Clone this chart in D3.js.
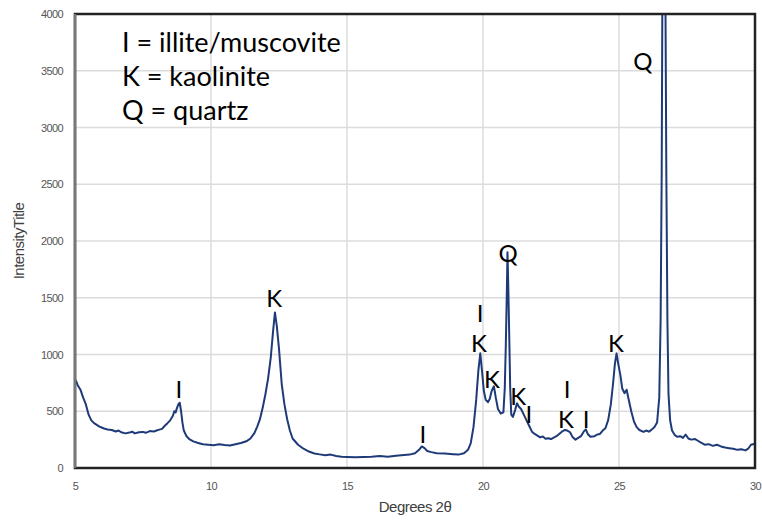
<!DOCTYPE html>
<html>
<head>
<meta charset="utf-8">
<script src="https://cdn.jsdelivr.net/npm/d3@7"></script>
<style>
  body { margin: 0; background: #fff; }
</style>
</head>
<body>
<div id="graficoXRD"></div>
<script>
// two-theta (degrees) and intensity
const twoTheta = [
  5.0, 5.05, 5.1, 5.2, 5.3, 5.4, 5.5, 5.6, 5.7, 5.8, 5.9, 6.0, 6.1, 6.2, 6.35, 6.5, 6.6, 6.7, 6.85, 7.0,
  7.1, 7.2, 7.35, 7.5, 7.6, 7.75, 7.9, 8.0, 8.1, 8.2, 8.3, 8.4, 8.5, 8.6, 8.65, 8.7, 8.75, 8.8, 8.85, 8.9,
  8.95, 9.0, 9.1, 9.2, 9.35, 9.5, 9.7, 9.9, 10.1, 10.3, 10.5, 10.7, 10.9, 11.1, 11.3, 11.45, 11.6, 11.7, 11.8, 11.9,
  12.0, 12.1, 12.2, 12.28, 12.35, 12.42, 12.5, 12.6, 12.7, 12.8, 12.9, 13.0, 13.2, 13.4, 13.6, 13.8, 14.0, 14.2, 14.4, 14.6,
  14.8, 15.0, 15.3, 15.6, 15.9, 16.2, 16.5, 16.8, 17.0, 17.3, 17.5, 17.65, 17.75, 17.85, 17.95, 18.1, 18.3, 18.6, 18.9, 19.1,
  19.3, 19.45, 19.55, 19.65, 19.75, 19.83, 19.9, 19.97, 20.03, 20.1, 20.18, 20.25, 20.32, 20.4, 20.47, 20.55, 20.65, 20.75, 20.8, 20.84,
  20.88, 20.9, 20.93, 20.97, 21.0, 21.04, 21.1, 21.18, 21.25, 21.32, 21.4, 21.5, 21.6, 21.7, 21.8, 21.9, 22.0, 22.1, 22.2, 22.3,
  22.4, 22.5, 22.6, 22.7, 22.8, 22.9, 23.0, 23.1, 23.2, 23.3, 23.4, 23.5, 23.6, 23.7, 23.78, 23.85, 23.95, 24.1, 24.2, 24.3,
  24.4, 24.5, 24.6, 24.7, 24.78, 24.85, 24.91, 24.97, 25.05, 25.12, 25.2, 25.28, 25.35, 25.45, 25.55, 25.65, 25.75, 25.9, 26.0, 26.1,
  26.2, 26.3, 26.4, 26.48, 26.53, 26.57, 26.6, 26.64, 26.7, 26.74, 26.78, 26.82, 26.88, 26.95, 27.05, 27.15, 27.25, 27.35, 27.45, 27.55,
  27.65, 27.8, 27.9, 28.0, 28.15, 28.3, 28.45, 28.6, 28.75, 28.9, 29.05, 29.2, 29.35, 29.5, 29.65, 29.75, 29.85, 30.0
];
const intensity = [
  780, 760, 730, 690, 620, 560, 470, 420, 395, 380, 365, 355, 345, 340, 335, 322, 330, 315, 305, 312,
  320, 305, 315, 318, 310, 325, 322, 330, 338, 345, 372, 395, 420, 460, 500, 490, 530, 560, 575, 500,
  400, 330, 280, 255, 235, 222, 210, 205, 200, 210, 203, 198, 210, 220, 235, 260, 310, 365, 430, 530,
  650, 790, 980, 1200, 1370, 1250, 1050, 740, 560, 430, 330, 260, 205, 170, 145, 128, 120, 112, 118, 105,
  100, 98, 95, 97, 100, 105, 100, 108, 112, 118, 130, 160, 190, 175, 150, 140, 130, 128, 122, 118,
  130, 160, 220, 360, 600, 860, 1010, 840, 680, 600, 580, 610, 680, 720, 620, 520, 480, 490, 700, 1100,
  1600, 1900, 1600, 1100, 700, 470, 450, 510, 570, 540, 520, 470, 420, 370, 320, 300, 285, 270, 278, 258,
  262, 255, 268, 280, 300, 320, 335, 330, 315, 270, 250, 265, 280, 320, 340, 300, 275, 280, 295, 300,
  330, 350, 420, 560, 740, 920, 1010, 920, 820, 700, 660, 690, 610, 500, 410, 360, 335, 318, 330, 320,
  338, 360, 400, 620, 1300, 2600, 4500, 6000, 4500, 2600, 1300, 650, 420, 330, 290, 275, 280, 265, 295, 260,
  250, 255, 240, 225, 205, 210, 195, 205, 190, 180, 175, 170, 160, 165, 155, 170, 205, 215
];

// peak labels: letter, position (deg), baseline (intensity)
const peakLetters = ['I', 'K', 'I', 'I', 'K', 'K', 'Q', 'K', 'I', 'I', 'K', 'I', 'K', 'Q'];
const peakAt =      [8.82, 12.32, 17.79, 19.89, 19.85, 20.33, 20.92, 21.29, 21.69, 23.09, 23.05, 23.79, 24.89, 25.88];
const peakLabelY =  [617, 1419, 220, 1290, 1022, 705, 1815, 555, 396, 620, 352, 352, 1022, 3507];

const legendLines = ['I = illite/muscovite', 'K = kaolinite', 'Q = quartz'];

const xTicks = [5, 10, 15, 20, 25, 30];
const yTicks = [0, 500, 1000, 1500, 2000, 2500, 3000, 3500, 4000];

const data = twoTheta.map((t, i) => ({t: t, v: intensity[i]}));

const margin = {top: 14, right: 7, bottom: 53, left: 75};
const width = 762 - margin.left - margin.right;
const height = 521 - margin.top - margin.bottom;

const svg = d3.select('#graficoXRD')
    .append('svg')
    .attr('width', width + margin.left + margin.right)
    .attr('height', height + margin.top + margin.bottom)
    .style('font-family', 'Liberation Sans, Arial, sans-serif');

const g = svg.append('g')
    .attr('transform', `translate(${margin.left},${margin.top})`);

const x = d3.scaleLinear()
    .domain([5, 30])
    .range([0, width]);

const y = d3.scaleLinear()
    .domain([0, 4000])
    .range([height, 0]);

// grid
g.append('g')
    .selectAll('line')
    .data(xTicks.slice(1, -1))
    .enter()
    .append('line')
    .attr('x1', d => x(d)).attr('x2', d => x(d))
    .attr('y1', 0).attr('y2', height)
    .attr('stroke', '#dcdcdc')
    .attr('stroke-width', 1.5);

g.append('g')
    .selectAll('line')
    .data(yTicks.slice(1, -1))
    .enter()
    .append('line')
    .attr('x1', 0).attr('x2', width)
    .attr('y1', d => y(d)).attr('y2', d => y(d))
    .attr('stroke', '#dcdcdc')
    .attr('stroke-width', 1.5);

// axes (labels only, Excel style)
const xAxis = g.append('g')
    .attr('transform', `translate(0,${height})`)
    .call(d3.axisBottom(x).tickValues(xTicks).tickSize(0).tickPadding(14));
xAxis.select('.domain').remove();
xAxis.selectAll('text')
    .attr('fill', '#555')
    .style('font-size', '11px')
    .style('letter-spacing', '-0.6px');

const yAxis = g.append('g')
    .call(d3.axisLeft(y).tickValues(yTicks).tickFormat(d3.format('d')).tickSize(0).tickPadding(12));
yAxis.select('.domain').remove();
yAxis.selectAll('text')
    .attr('fill', '#555')
    .style('font-size', '11px')
    .style('letter-spacing', '-0.6px');

// spectrum
g.append('clipPath')
    .attr('id', 'plotClip')
    .append('rect')
    .attr('width', width)
    .attr('height', height);

const line = d3.line()
    .x(d => x(d.t))
    .y(d => y(d.v));

g.append('path')
    .datum(data)
    .attr('clip-path', 'url(#plotClip)')
    .attr('fill', 'none')
    .attr('stroke', '#1f3a78')
    .attr('stroke-width', 2)
    .attr('stroke-linejoin', 'round')
    .attr('d', line);

// frame
g.append('rect')
    .attr('width', width)
    .attr('height', height)
    .attr('fill', 'none')
    .attr('stroke', '#222')
    .attr('stroke-width', 2.5);

g.append('line')
    .attr('x1', 0).attr('x2', 0)
    .attr('y1', 0).attr('y2', height)
    .attr('stroke', '#777')
    .attr('stroke-width', 2.5);

// peak letters
g.selectAll('.peak')
    .data(peakLetters)
    .enter()
    .append('text')
    .attr('class', 'peak')
    .attr('x', (d, i) => x(peakAt[i]))
    .attr('y', (d, i) => y(peakLabelY[i]))
    .attr('text-anchor', 'middle')
    .attr('fill', '#000')
    .style('font-family', 'Lato, sans-serif')
    .style('font-size', '24px')
    .text(d => d);

// legend
g.selectAll('.legend')
    .data(legendLines)
    .enter()
    .append('text')
    .attr('class', 'legend')
    .attr('x', 47)
    .attr('y', (d, i) => 38 + i * 34)
    .attr('fill', '#000')
    .style('font-family', 'Lato, sans-serif')
    .style('font-size', '27px')
    .text(d => d);

// axis titles
svg.append('text')
    .attr('x', margin.left + width / 2)
    .attr('y', 512)
    .attr('text-anchor', 'middle')
    .attr('fill', '#404040')
    .style('font-size', '15px')
    .style('letter-spacing', '-0.5px')
    .text('Degrees 2θ');

svg.append('text')
    .attr('transform', `translate(24,${margin.top + height / 2}) rotate(-90)`)
    .attr('text-anchor', 'middle')
    .attr('fill', '#404040')
    .style('font-size', '15px')
    .style('letter-spacing', '-0.5px')
    .text('IntensityTitle');
</script>
</body>
</html>
